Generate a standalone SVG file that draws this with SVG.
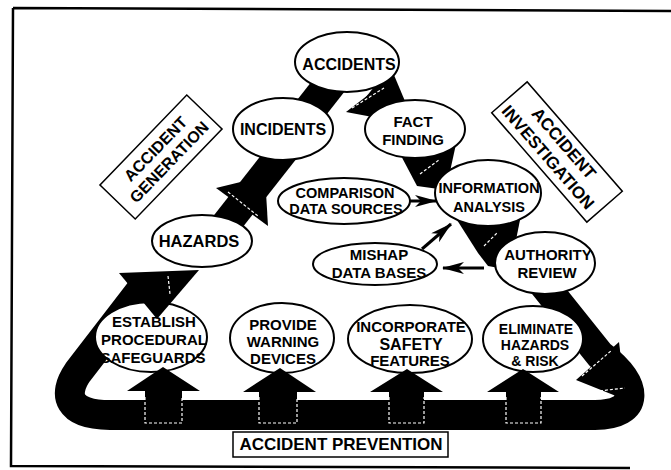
<svg xmlns="http://www.w3.org/2000/svg" width="671" height="470" viewBox="0 0 671 470">
<style>
.t{font-family:"Liberation Sans",Arial,Helvetica,sans-serif;font-weight:bold;text-anchor:middle;fill:#000}
.n{fill:#fff;stroke:#000;stroke-width:2}
.band{fill:none;stroke:#000;stroke-linejoin:round}
.blk{fill:#000}
.wd{fill:none;stroke:#fff;stroke-width:1.2;stroke-dasharray:3 2}
.thin{fill:none;stroke:#000;stroke-width:3}
.box{fill:#fff;stroke:#000;stroke-width:1.5}
</style>
<defs>
<marker id="ah" viewBox="0 0 22 12" refX="21" refY="6" markerWidth="22" markerHeight="12" markerUnits="userSpaceOnUse" orient="auto">
<path d="M0,0 L22,6 L0,12 L6,6 z" fill="#000"/>
</marker>
</defs>
<rect x="0" y="0" width="671" height="470" fill="#fff"/>
<path d="M13,8 L671,11 M13,8 L11,466 L630,468" fill="none" stroke="#000" stroke-width="2.5"/>

<g id="connectors">
<path class="band" stroke-width="30" d="M540,280 L600,355 C640,385 640,415 595,415 L110,415 C68,415 62,395 78,372 L145,285"/>
<line class="band" stroke-width="30" x1="212" y1="242" x2="300" y2="130"/>
<line class="band" stroke-width="32" x1="290" y1="135" x2="345" y2="65"/>
<line class="band" stroke-width="26" x1="370" y1="92" x2="415" y2="129"/>
<line class="band" stroke-width="26" x1="470" y1="215" x2="530" y2="280"/>
<polygon class="blk" points="216,188 268,226 265,176"/>
<polygon class="blk" points="346,112 394,75 415,125"/>
<polygon class="blk" points="398,150 456,144 446,190 417,186"/>
<polygon class="blk" points="457,220 521,215 510,270 488,266 478,253"/>
<polygon class="blk" points="576,380 619,342 626,400"/>
<path class="wd" d="M228,192 L258,216"/>
<path class="wd" d="M352,108 L384,88"/>
<path class="wd" d="M420,174 L439,160"/>
<path class="wd" d="M484,246 L498,232"/>
<path class="wd" d="M582,376 L612,350"/>
<path class="wd" d="M590,392 L625,388"/>
<line class="thin" x1="398" y1="201" x2="436" y2="201" marker-end="url(#ah)"/>
<line class="thin" x1="422" y1="249" x2="451" y2="224" marker-end="url(#ah)"/>
<line class="thin" x1="484" y1="268" x2="443" y2="268" marker-end="url(#ah)"/>
</g>

<g id="accidents"><ellipse class="n" cx="347" cy="62" rx="52" ry="30"/><text class="t" x="349" y="70" font-size="16">ACCIDENTS</text></g>
<g id="incidents"><ellipse class="n" cx="283" cy="129" rx="50" ry="31"/><text class="t" x="283" y="135" font-size="16">INCIDENTS</text></g>
<g id="fact-finding"><ellipse class="n" cx="415" cy="129" rx="50" ry="29"/><text class="t" font-size="15"><tspan x="413" y="127">FACT</tspan><tspan x="413" y="145">FINDING</tspan></text></g>
<g id="information-analysis"><ellipse class="n" cx="488" cy="193" rx="53" ry="33"/><text class="t" font-size="14.5"><tspan x="489" y="193">INFORMATION</tspan><tspan x="489" y="212">ANALYSIS</tspan></text></g>
<g id="comparison"><ellipse class="n" cx="344" cy="201" rx="66" ry="23"/><text class="t" font-size="14.5"><tspan x="345" y="198">COMPARISON</tspan><tspan x="346" y="214">DATA SOURCES</tspan></text></g>
<g id="mishap"><ellipse class="n" cx="375" cy="264" rx="62" ry="21"/><text class="t" font-size="15"><tspan x="379" y="260">MISHAP</tspan><tspan x="379" y="278">DATA BASES</tspan></text></g>
<g id="authority-review"><ellipse class="n" cx="545" cy="263" rx="50" ry="31"/><text class="t" font-size="15"><tspan x="548" y="260">AUTHORITY</tspan><tspan x="547" y="278">REVIEW</tspan></text></g>
<g id="establish"><ellipse class="n" cx="151" cy="337" rx="56" ry="35"/><text class="t" font-size="15"><tspan x="154" y="327">ESTABLISH</tspan><tspan x="154" y="345">PROCEDURAL</tspan><tspan x="153" y="363">SAFEGUARDS</tspan></text></g>

<g id="arrowhead-hazards"><polygon class="blk" points="119,273 199,270 157,319"/><path class="wd" d="M168,276 L170,294"/></g>

<g id="hazards"><ellipse class="n" cx="202" cy="241" rx="50" ry="26"/><text class="t" x="199" y="247" font-size="16.5">HAZARDS</text></g>
<g id="provide"><ellipse class="n" cx="282" cy="338" rx="52" ry="35"/><text class="t" font-size="15"><tspan x="283" y="330">PROVIDE</tspan><tspan x="283" y="347">WARNING</tspan><tspan x="283" y="364">DEVICES</tspan></text></g>
<g id="incorporate"><ellipse class="n" cx="410" cy="339" rx="62" ry="34"/><text class="t" font-size="15"><tspan x="411" y="332">INCORPORATE</tspan><tspan x="411" y="350" font-size="16" font-weight="900">SAFETY</tspan><tspan x="410" y="366">FEATURES</tspan></text></g>
<g id="eliminate"><ellipse class="n" cx="533" cy="339" rx="50" ry="33"/><text class="t" font-size="14"><tspan x="536" y="334">ELIMINATE</tspan><tspan x="535" y="350">HAZARDS</tspan><tspan x="535" y="366">&amp; RISK</tspan></text></g>

<g id="prevention-arrows">
<path class="blk" d="M145,424 V391 H127 L163,367 L200,391 H182 V424 Z"/>
<path class="blk" d="M259,424 V392 H243 L280,368 L316,392 H297 V424 Z"/>
<path class="blk" d="M389,424 V392 H370 L407,369 L443,392 H424 V424 Z"/>
<path class="blk" d="M506,424 V392 H487 L523,369 L559,392 H541 V424 Z"/>
<path class="wd" d="M145,397 V423 H182 V397"/>
<path class="wd" d="M259,397 V423 H297 V397"/>
<path class="wd" d="M389,397 V423 H424 V397"/>
<path class="wd" d="M506,397 V423 H541 V397"/>
</g>

<g id="accident-generation" transform="translate(161,157) rotate(-46)"><rect class="box" x="-62.5" y="-24.5" width="125" height="49"/><text class="t" font-size="16"><tspan x="2" y="-4">ACCIDENT</tspan><tspan x="2" y="15">GENERATION</tspan></text></g>
<g id="accident-investigation" transform="translate(557,152) rotate(49)"><rect class="box" x="-72.5" y="-23.5" width="145" height="47"/><text class="t" font-size="17"><tspan x="-2" y="-5">ACCIDENT</tspan><tspan x="-2" y="16">INVESTIGATION</tspan></text></g>
<g id="accident-prevention"><rect class="box" x="233" y="432" width="215" height="25"/><text class="t" x="341" y="450" font-size="17">ACCIDENT PREVENTION</text></g>
</svg>
